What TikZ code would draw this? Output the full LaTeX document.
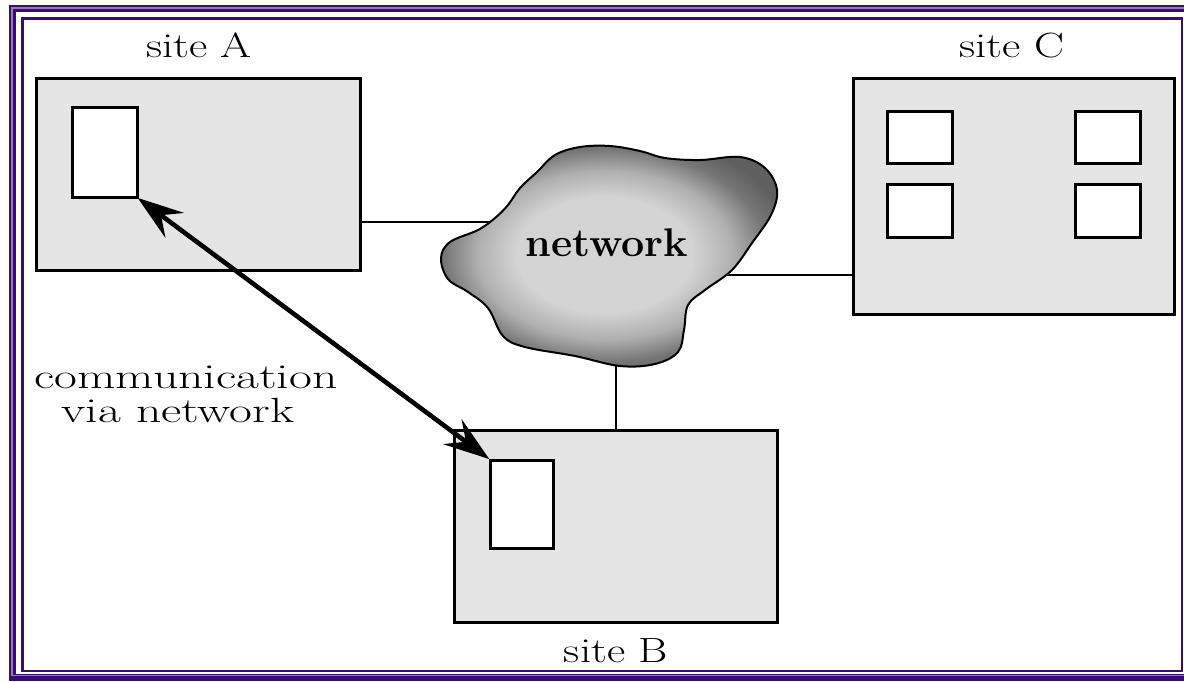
\documentclass[tikz,border=0pt]{standalone}
\usetikzlibrary{arrows.meta}
\definecolor{bd}{RGB}{58,12,110}
\definecolor{bdlight}{RGB}{150,120,190}
\definecolor{boxgray}{RGB}{229,229,229}
\definecolor{cl}{RGB}{212,212,212}
\definecolor{cm}{RGB}{175,175,175}
\definecolor{cd}{RGB}{118,118,118}
\definecolor{cdd}{RGB}{95,95,95}
\pgfdeclareradialshading{cloudshade}{\pgfpoint{-1bp}{0.5bp}}{color(0bp)=(cl); color(13bp)=(cl); color(19bp)=(cm); color(24bp)=(cd); color(28bp)=(cdd); color(50bp)=(cdd)}
\begin{document}
\begin{tikzpicture}[x=1pt,y=-1pt,
  site/.style={draw, line width=3pt, fill=boxgray, inner sep=0pt},
  proc/.style={draw, line width=3pt, fill=white, inner sep=0pt},
  link/.style={line width=2pt},
  dblarrow/.style={line width=4.6pt, >={Stealth[length=46pt,width=31pt,inset=17pt]}, <->},
  lbl/.style={font=\fontsize{35}{42}\selectfont, xscale=#1, transform shape, inner sep=0pt, anchor=base},
  lbl/.default=1.28]
\useasboundingbox (0,0) rectangle (1184,681);
\fill[white] (0,0) rectangle (1184,681);
% frame
\draw[bd, line width=7pt] (12.5,8.5) rectangle (1220,677.5);
\draw[bdlight, line width=1.1pt] (12,8) rectangle (1220,675.5);
\draw[bd, line width=2.6pt] (22.5,18.5) rectangle (1182,671);
% sites
\node[site, minimum width=324pt, minimum height=192pt] (siteA) at (198,174) {};
\node[proc, minimum width=65pt, minimum height=90pt] (procA) at (104.5,152) {};
\node[site, minimum width=323pt, minimum height=192pt] (siteB) at (615.5,526) {};
\node[proc, minimum width=63pt, minimum height=88pt] (procB) at (521.5,504) {};
\node[site, minimum width=321pt, minimum height=236pt] (siteC) at (1013.5,196) {};
\node[proc, minimum width=65pt, minimum height=52pt] (c1) at (919.5,137.5) {};
\node[proc, minimum width=65pt, minimum height=52pt] (c2) at (1107.5,137.5) {};
\node[proc, minimum width=65pt, minimum height=53pt] (c3) at (919.5,211) {};
\node[proc, minimum width=65pt, minimum height=53pt] (c4) at (1107.5,211) {};
% cloud
\path[draw, line width=2pt, shading=cloudshade]
  plot[smooth cycle, tension=0.6] coordinates {(441,258) (450,242) (478,230) (495,218) (508,205) (520,188) (537,172) (555,155) (580,147) (610,146) (640,151) (665,158) (700,160) (740,157) (765,168) (777,190) (771,215) (752,243) (732,270) (705,290) (688,305) (684,330) (678,352) (655,364) (620,366) (575,356) (525,347) (503,336) (488,308) (468,292) (448,279)};
\coordinate (netL) at (491,222);
\coordinate (netR) at (726,275);
\coordinate (netB) at (616,365);
\node[font=\bfseries\fontsize{40}{48}\selectfont, xscale=1.03, transform shape, inner sep=0pt, anchor=base] (net) at (607,256) {network};
% connectors
\draw[link] (siteA.east |- netL) -- (netL);
\draw[link] (netR) -- (siteC.west |- netR);
\draw[link] (netB) -- (netB |- siteB.north);
\draw[dblarrow, shorten <=-1pt, shorten >=-1pt] (procA.south east) -- (procB.north west);
% labels
\node[lbl] (labA) at (199,57) {site A};
\node[lbl] (labC) at (1012,57) {site C};
\node[lbl] (labB) at (616,662) {site B};
\node[lbl=1.42] (comm1) at (186,388) {communication};
\node[lbl=1.42] (comm2) at (178,422) {via network};
\end{tikzpicture}
\end{document}
